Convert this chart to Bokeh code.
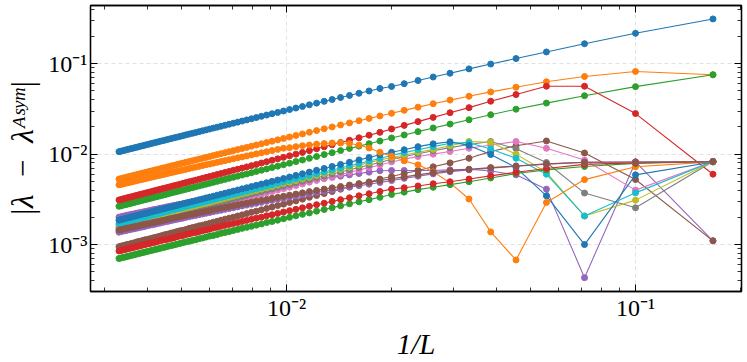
from bokeh.plotting import figure
from bokeh.models import Range1d, LogAxis, FixedTicker
from bokeh.embed import file_html
from bokeh.resources import INLINE

# ---------------- data ----------------
L_sizes = [6, 10, 14, 18, 22, 26, 30, 34, 38, 42, 46, 50, 54, 58, 62, 66, 70, 74, 78, 82,
           86, 90, 94, 98, 102, 106, 110, 114, 118, 122, 126, 130, 134, 138, 142, 146, 150,
           154, 158, 162, 166, 170, 174, 178, 182, 186, 190, 194, 198, 202, 206, 210, 214,
           218, 222, 226, 230, 234, 238, 242, 246, 250, 254, 258, 262, 266, 270, 274, 278,
           282, 286, 290, 294, 298, 302]

s00_blue = [0.313, 0.217, 0.1664, 0.135, 0.1141, 0.0992, 0.0877, 0.0785, 0.0713, 0.0652, 0.0602, 0.0560,
    0.05323, 0.05, 0.04714, 0.04459, 0.04231, 0.04024, 0.03837, 0.03667, 0.03511, 0.03367,
    0.03235, 0.03113, 0.03, 0.02895, 0.02797, 0.02705, 0.02619, 0.02538, 0.02463, 0.02391,
    0.02324, 0.0226, 0.022, 0.02143, 0.02089, 0.02037, 0.01988, 0.01941, 0.01897, 0.01854,
    0.01813, 0.01774, 0.01737, 0.01701, 0.01667, 0.01634, 0.01602, 0.01571, 0.01542, 0.01514,
    0.01486, 0.0146, 0.01435, 0.0141, 0.01387, 0.01364, 0.01341, 0.0132, 0.01299, 0.01279,
    0.0126, 0.01241, 0.01222, 0.01204, 0.01187, 0.0117, 0.01154, 0.01138, 0.01122, 0.01107,
    0.01093, 0.01078, 0.01065]
s01_orange = [0.0755, 0.0822, 0.0722, 0.0632, 0.0550, 0.0488, 0.0437, 0.0396, 0.0361, 0.0331, 0.0305, 0.0283,
    0.02645, 0.02485, 0.02343, 0.02216, 0.02103, 0.02, 0.01907, 0.01822, 0.01745, 0.01673,
    0.01608, 0.01547, 0.01491, 0.01439, 0.0139, 0.01344, 0.01302, 0.01262, 0.01224, 0.01188,
    0.01155, 0.01123, 0.01093, 0.01065, 0.01038, 0.01012, 0.00988, 0.00965, 0.00943, 0.00921,
    0.00901, 0.00882, 0.00863, 0.00845, 0.00828, 0.00812, 0.00796, 0.00781, 0.00766, 0.00752,
    0.00739, 0.00726, 0.00713, 0.00701, 0.00689, 0.00678, 0.00667, 0.00656, 0.00646, 0.00636,
    0.00626, 0.00617, 0.00607, 0.00599, 0.0059, 0.00582, 0.00573, 0.00566, 0.00558, 0.0055,
    0.00543, 0.00536, 0.00529]
s02_green = [0.0755, 0.0558, 0.0443, 0.0367, 0.0314, 0.0273, 0.0240, 0.0215, 0.01947, 0.01774, 0.0163, 0.0151,
    0.01397, 0.01306, 0.01227, 0.01157, 0.01095, 0.01038, 0.00988, 0.00942, 0.009, 0.00862,
    0.00827, 0.00794, 0.00764, 0.00736, 0.00711, 0.00686, 0.00664, 0.00643, 0.00623, 0.00604,
    0.00587, 0.0057, 0.00555, 0.0054, 0.00526, 0.00513, 0.005, 0.00488, 0.00476, 0.00466,
    0.00455, 0.00445, 0.00435, 0.00426, 0.00418, 0.00409, 0.00401, 0.00393, 0.00386, 0.00379,
    0.00372, 0.00365, 0.00358, 0.00352, 0.00346, 0.0034, 0.00335, 0.00329, 0.00324, 0.00319,
    0.00314, 0.00309, 0.00305, 0.003, 0.00296, 0.00291, 0.00287, 0.00283, 0.00279, 0.00276,
    0.00272, 0.00268, 0.00265]
s03_red = [0.0060, 0.0281, 0.0564, 0.0564, 0.0456, 0.0385, 0.0327, 0.0287, 0.0255, 0.0229, 0.0208, 0.0190,
    0.01741, 0.01621, 0.01516, 0.01424, 0.01343, 0.0127, 0.01205, 0.01146, 0.01093, 0.01044,
    0.01, 0.00959, 0.00922, 0.00887, 0.00855, 0.00825, 0.00797, 0.0077, 0.00746, 0.00723,
    0.00701, 0.00681, 0.00662, 0.00644, 0.00627, 0.0061, 0.00595, 0.0058, 0.00566, 0.00553,
    0.0054, 0.00528, 0.00516, 0.00505, 0.00495, 0.00485, 0.00475, 0.00465, 0.00456, 0.00448,
    0.00439, 0.00431, 0.00423, 0.00416, 0.00409, 0.00402, 0.00395, 0.00388, 0.00382, 0.00376,
    0.0037, 0.00364, 0.00359, 0.00353, 0.00348, 0.00343, 0.00338, 0.00333, 0.00329, 0.00324,
    0.0032, 0.00315, 0.00311]
s04_purple = [0.0011, 0.0082, 0.00043, 0.0041, 0.0059, 0.0065, 0.0068, 0.0067, 0.0066, 0.0066, 0.0066, 0.0066,
    0.00655, 0.00632, 0.0061, 0.0059, 0.00571, 0.00554, 0.00537, 0.00522, 0.00507, 0.00493,
    0.0048, 0.00468, 0.00456, 0.00444, 0.00434, 0.00424, 0.00414, 0.00404, 0.00396, 0.00387,
    0.00379, 0.00371, 0.00364, 0.00356, 0.0035, 0.00343, 0.00336, 0.0033, 0.00324, 0.00319,
    0.00313, 0.00308, 0.00303, 0.00298, 0.00293, 0.00288, 0.00283, 0.00279, 0.00275, 0.00271,
    0.00267, 0.00263, 0.00259, 0.00255, 0.00252, 0.00248, 0.00245, 0.00242, 0.00238, 0.00235,
    0.00232, 0.00229, 0.00226, 0.00224, 0.00221, 0.00218, 0.00216, 0.00213, 0.00211, 0.00208,
    0.00206, 0.00203, 0.00201]
s05_brown = [0.0011, 0.00524, 0.0103, 0.0140, 0.0124, 0.0107, 0.0090, 0.0080, 0.00724, 0.0066, 0.0061, 0.00565,
    0.0053, 0.00493, 0.00461, 0.00433, 0.00409, 0.00386, 0.00367, 0.00349, 0.00333, 0.00318,
    0.00304, 0.00292, 0.0028, 0.0027, 0.0026, 0.00251, 0.00242, 0.00234, 0.00227, 0.0022,
    0.00213, 0.00207, 0.00201, 0.00196, 0.00191, 0.00186, 0.00181, 0.00177, 0.00172, 0.00168,
    0.00164, 0.00161, 0.00157, 0.00154, 0.00151, 0.00147, 0.00144, 0.00142, 0.00139, 0.00136,
    0.00134, 0.00131, 0.00129, 0.00127, 0.00124, 0.00122, 0.0012, 0.00118, 0.00116, 0.00114,
    0.00113, 0.00111, 0.00109, 0.00108, 0.00106, 0.00104, 0.00103, 0.00101, 0.001, 0.000986,
    0.000973, 0.00096, 0.000947]
s06_pink = [0.0083, 0.0040, 0.0086, 0.0116, 0.0138, 0.0126, 0.0116, 0.0107, 0.0100, 0.0094, 0.0088, 0.0082,
    0.00759, 0.0071, 0.00667, 0.00629, 0.00595, 0.00564, 0.00537, 0.00512, 0.00489, 0.00468,
    0.00449, 0.00431, 0.00415, 0.004, 0.00386, 0.00373, 0.00361, 0.00349, 0.00338, 0.00328,
    0.00319, 0.0031, 0.00301, 0.00293, 0.00286, 0.00278, 0.00272, 0.00265, 0.00259, 0.00253,
    0.00247, 0.00242, 0.00237, 0.00232, 0.00227, 0.00222, 0.00218, 0.00214, 0.0021, 0.00206,
    0.00202, 0.00198, 0.00195, 0.00191, 0.00188, 0.00185, 0.00182, 0.00179, 0.00176, 0.00173,
    0.00171, 0.00168, 0.00165, 0.00163, 0.00161, 0.00158, 0.00156, 0.00154, 0.00152, 0.0015,
    0.00148, 0.00146, 0.00144]
s07_gray = [0.0083, 0.00255, 0.00371, 0.00808, 0.0115, 0.0138, 0.0128, 0.0118, 0.0109, 0.0101, 0.0094, 0.0088,
    0.0081, 0.00758, 0.00712, 0.00671, 0.00635, 0.00603, 0.00573, 0.00547, 0.00522, 0.005,
    0.0048, 0.00461, 0.00443, 0.00427, 0.00412, 0.00398, 0.00385, 0.00373, 0.00362, 0.00351,
    0.00341, 0.00331, 0.00322, 0.00313, 0.00305, 0.00297, 0.0029, 0.00283, 0.00276, 0.0027,
    0.00264, 0.00258, 0.00253, 0.00247, 0.00242, 0.00237, 0.00233, 0.00228, 0.00224, 0.0022,
    0.00216, 0.00212, 0.00208, 0.00204, 0.00201, 0.00197, 0.00194, 0.00191, 0.00188, 0.00185,
    0.00182, 0.00179, 0.00177, 0.00174, 0.00172, 0.00169, 0.00167, 0.00164, 0.00162, 0.0016,
    0.00158, 0.00156, 0.00154]
s08_olive = [0.0083, 0.0031, 0.00207, 0.0063, 0.0100, 0.0135, 0.0138, 0.0124, 0.0113, 0.0105, 0.0098, 0.0092,
    0.00862, 0.00806, 0.00758, 0.00714, 0.00676, 0.00641, 0.0061, 0.00581, 0.00556, 0.00532,
    0.0051, 0.0049, 0.00472, 0.00455, 0.00439, 0.00424, 0.0041, 0.00397, 0.00385, 0.00373,
    0.00362, 0.00352, 0.00342, 0.00333, 0.00325, 0.00316, 0.00309, 0.00301, 0.00294, 0.00287,
    0.00281, 0.00275, 0.00269, 0.00263, 0.00258, 0.00253, 0.00248, 0.00243, 0.00238, 0.00234,
    0.00229, 0.00225, 0.00221, 0.00217, 0.00214, 0.0021, 0.00207, 0.00203, 0.002, 0.00197,
    0.00194, 0.00191, 0.00188, 0.00185, 0.00182, 0.0018, 0.00177, 0.00175, 0.00172, 0.0017,
    0.00168, 0.00166, 0.00163]
s09_cyan = [0.0083, 0.00373, 0.00207, 0.0060, 0.0090, 0.0114, 0.0134, 0.0132, 0.0121, 0.0112, 0.0104, 0.0097,
    0.00897, 0.00839, 0.00788, 0.00743, 0.00703, 0.00667, 0.00634, 0.00605, 0.00578, 0.00553,
    0.00531, 0.0051, 0.00491, 0.00473, 0.00456, 0.00441, 0.00426, 0.00413, 0.004, 0.00388,
    0.00377, 0.00366, 0.00356, 0.00347, 0.00338, 0.00329, 0.00321, 0.00313, 0.00306, 0.00299,
    0.00292, 0.00286, 0.0028, 0.00274, 0.00268, 0.00263, 0.00257, 0.00252, 0.00248, 0.00243,
    0.00239, 0.00234, 0.0023, 0.00226, 0.00222, 0.00218, 0.00215, 0.00211, 0.00208, 0.00205,
    0.00202, 0.00198, 0.00195, 0.00193, 0.0019, 0.00187, 0.00184, 0.00182, 0.00179, 0.00177,
    0.00174, 0.00172, 0.0017]
s10_blue = [0.0082, 0.0059, 0.00100, 0.00346, 0.0071, 0.0099, 0.0125, 0.0137, 0.0130, 0.0121, 0.0112, 0.0105,
    0.00983, 0.00919, 0.00864, 0.00814, 0.0077, 0.00731, 0.00695, 0.00663, 0.00633, 0.00606,
    0.00582, 0.00559, 0.00538, 0.00518, 0.005, 0.00483, 0.00467, 0.00452, 0.00438, 0.00425,
    0.00413, 0.00401, 0.0039, 0.0038, 0.0037, 0.00361, 0.00352, 0.00343, 0.00335, 0.00328,
    0.0032, 0.00313, 0.00306, 0.003, 0.00294, 0.00288, 0.00282, 0.00277, 0.00271, 0.00266,
    0.00261, 0.00257, 0.00252, 0.00248, 0.00244, 0.00239, 0.00236, 0.00232, 0.00228, 0.00224,
    0.00221, 0.00218, 0.00214, 0.00211, 0.00208, 0.00205, 0.00202, 0.00199, 0.00197, 0.00194,
    0.00191, 0.00189, 0.00186]
s11_orange = [0.00822, 0.00724, 0.00523, 0.00292, 0.000675, 0.00138, 0.00319, 0.00482, 0.00637, 0.00762,
    0.00843, 0.0095, 0.0105, 0.0117, 0.0126, 0.0131, 0.0133, 0.0133, 0.0131, 0.0129, 0.0126, 0.0124,
    0.0121, 0.0118,
    0.01162, 0.01127, 0.01094, 0.01063, 0.01034, 0.01007, 0.00981, 0.00956, 0.00932, 0.0091,
    0.00888, 0.00868, 0.00848, 0.0083, 0.00812, 0.00795, 0.00778, 0.00763, 0.00748, 0.00733,
    0.00719, 0.00706, 0.00693, 0.0068, 0.00668, 0.00657, 0.00645, 0.00635, 0.00624, 0.00614,
    0.00604, 0.00594, 0.00585, 0.00576, 0.00568, 0.00559, 0.00551, 0.00543, 0.00535, 0.00528,
    0.00521, 0.00514, 0.00507, 0.005, 0.00493, 0.00487, 0.00481, 0.00475, 0.00469, 0.00463,
    0.00458]
s12_green = [0.0083, 0.0079, 0.0073, 0.0067, 0.0061, 0.00545, 0.00495, 0.0046, 0.0043, 0.00405, 0.0038, 0.00358,
    0.00333, 0.00314, 0.00297, 0.00282, 0.00268, 0.00256, 0.00244, 0.00234, 0.00224, 0.00216,
    0.00208, 0.002, 0.00193, 0.00186, 0.0018, 0.00175, 0.00169, 0.00164, 0.00159, 0.00155,
    0.00151, 0.00147, 0.00143, 0.00139, 0.00136, 0.00133, 0.00129, 0.00126, 0.00124, 0.00121,
    0.00118, 0.00116, 0.00113, 0.00111, 0.00109, 0.00107, 0.00105, 0.00103, 0.00101, 0.000991,
    0.000973, 0.000957, 0.00094, 0.000924, 0.000909, 0.000894, 0.00088, 0.000866, 0.000853, 0.00084,
    0.000827, 0.000815, 0.000803, 0.000791, 0.00078, 0.000769, 0.000759, 0.000748, 0.000738, 0.000728,
    0.000719, 0.00071, 0.000701]
s13_red = [0.0083, 0.0080, 0.0077, 0.00695, 0.0063, 0.00575, 0.0053, 0.00495, 0.0047, 0.00445, 0.00425, 0.0041,
    0.00386, 0.00365, 0.00346, 0.00329, 0.00314, 0.003, 0.00287, 0.00276, 0.00265, 0.00255,
    0.00245, 0.00237, 0.00229, 0.00221, 0.00214, 0.00208, 0.00201, 0.00196, 0.0019, 0.00185,
    0.0018, 0.00175, 0.00171, 0.00167, 0.00163, 0.00159, 0.00155, 0.00152, 0.00148, 0.00145,
    0.00142, 0.00139, 0.00136, 0.00134, 0.00131, 0.00129, 0.00126, 0.00124, 0.00122, 0.00119,
    0.00117, 0.00115, 0.00113, 0.00112, 0.0011, 0.00108, 0.00106, 0.00105, 0.00103, 0.00102,
    0.001, 0.000986, 0.000971, 0.000957, 0.000944, 0.000931, 0.000918, 0.000906, 0.000894, 0.000882,
    0.000871, 0.00086, 0.000849]
s14_purple = [0.00825, 0.0082, 0.0081, 0.00775, 0.00735, 0.0070, 0.0067, 0.0064, 0.00605, 0.0057, 0.0054, 0.0051,
    0.00485, 0.00466, 0.00448, 0.00432, 0.00417, 0.00403, 0.00389, 0.00377, 0.00365, 0.00354,
    0.00344, 0.00335, 0.00325, 0.00317, 0.00308, 0.00301, 0.00293, 0.00286, 0.00279, 0.00273,
    0.00267, 0.00261, 0.00255, 0.0025, 0.00245, 0.0024, 0.00235, 0.00231, 0.00226, 0.00222,
    0.00218, 0.00214, 0.0021, 0.00207, 0.00203, 0.002, 0.00196, 0.00193, 0.0019, 0.00187,
    0.00184, 0.00181, 0.00179, 0.00176, 0.00173, 0.00171, 0.00168, 0.00166, 0.00164, 0.00162,
    0.00159, 0.00157, 0.00155, 0.00153, 0.00151, 0.00149, 0.00148, 0.00146, 0.00144, 0.00142,
    0.00141, 0.00139, 0.00137]
s15_brown = [0.00825, 0.0082, 0.00815, 0.0078, 0.0074, 0.0071, 0.0068, 0.00655, 0.00625, 0.0059, 0.0056, 0.00535,
    0.0051, 0.0049, 0.00472, 0.00455, 0.00439, 0.00424, 0.0041, 0.00397, 0.00385, 0.00373,
    0.00362, 0.00352, 0.00342, 0.00333, 0.00325, 0.00316, 0.00309, 0.00301, 0.00294, 0.00287,
    0.00281, 0.00275, 0.00269, 0.00263, 0.00258, 0.00253, 0.00248, 0.00243, 0.00238, 0.00234,
    0.00229, 0.00225, 0.00221, 0.00217, 0.00214, 0.0021, 0.00207, 0.00203, 0.002, 0.00197,
    0.00194, 0.00191, 0.00188, 0.00185, 0.00182, 0.0018, 0.00177, 0.00175, 0.00172, 0.0017,
    0.00168, 0.00166, 0.00163, 0.00161, 0.00159, 0.00157, 0.00155, 0.00153, 0.00152, 0.0015,
    0.00148, 0.00146, 0.00145]

series = [s00_blue, s01_orange, s02_green, s03_red, s04_purple, s05_brown, s06_pink, s07_gray,
          s08_olive, s09_cyan, s10_blue, s11_orange, s12_green, s13_red, s14_purple, s15_brown]
colors = ["#1f77b4", "#ff7f0e", "#2ca02c", "#d62728", "#9467bd", "#8c564b", "#e377c2", "#7f7f7f",
          "#bcbd22", "#17becf", "#1f77b4", "#ff7f0e", "#2ca02c", "#d62728", "#9467bd", "#8c564b"]

x_major = [0.01, 0.1]
x_minor = [0.003, 0.004, 0.005, 0.006, 0.007, 0.008, 0.009,
           0.02, 0.03, 0.04, 0.05, 0.06, 0.07, 0.08, 0.09, 0.2]
y_major = [0.001, 0.01, 0.1]
y_minor = [0.0004, 0.0005, 0.0006, 0.0007, 0.0008, 0.0009,
           0.002, 0.003, 0.004, 0.005, 0.006, 0.007, 0.008, 0.009,
           0.02, 0.03, 0.04, 0.05, 0.06, 0.07, 0.08, 0.09, 0.2, 0.3, 0.4]
x_tick_text = {0.01: "10⁻²", 0.1: "10⁻¹"}
y_tick_text = {0.001: "10⁻³", 0.01: "10⁻²", 0.1: "10⁻¹"}
x_title = "1/L"
y_title = "|λ\u2002−\u2002λᴬˢʸᵐ|"

# ---------------- figure ----------------
p = figure(width=747, height=362, x_axis_type="log", y_axis_type="log",
           x_range=Range1d(0.002744, 0.2012), y_range=Range1d(3.025e-4, 0.4407),
           output_backend="svg", toolbar_location=None,
           min_border_left=90, min_border_right=6, min_border_top=5, min_border_bottom=71)
p.background_fill_color = "white"
p.border_fill_color = "white"
p.outline_line_color = "black"
p.outline_line_width = 1.3

FONT = "Liberation Serif"


def style_axis(ax, ticks, minor, texts, show):
    ax.ticker = FixedTicker(ticks=ticks, minor_ticks=minor)
    ax.major_tick_in = 7
    ax.major_tick_out = 0
    ax.minor_tick_in = 4
    ax.minor_tick_out = 0
    ax.major_tick_line_color = "black"
    ax.minor_tick_line_color = "black"
    ax.major_tick_line_width = 1
    ax.minor_tick_line_width = 0.8
    ax.axis_line_color = "black"
    ax.axis_line_width = 1.3
    if show:
        ax.major_label_overrides = texts
        ax.major_label_text_font = FONT
        ax.major_label_text_font_size = "24px"
        ax.major_label_text_color = "black"
    else:
        ax.major_label_overrides = {t: "" for t in ticks}
        ax.major_label_text_font_size = "0px"
        ax.major_label_standoff = 0


style_axis(p.xaxis[0], x_major, x_minor, x_tick_text, True)
style_axis(p.yaxis[0], y_major, y_minor, y_tick_text, True)
p.xaxis[0].major_label_standoff = 3
p.yaxis[0].major_label_standoff = 3

p.xaxis[0].axis_label = x_title
p.xaxis[0].axis_label_text_font = FONT
p.xaxis[0].axis_label_text_font_size = "29px"
p.xaxis[0].axis_label_text_font_style = "italic"
p.xaxis[0].axis_label_text_color = "black"
p.xaxis[0].axis_label_standoff = 4

p.yaxis[0].axis_label = y_title
p.yaxis[0].axis_label_text_font = FONT
p.yaxis[0].axis_label_text_font_size = "31px"
p.yaxis[0].axis_label_text_font_style = "italic"
p.yaxis[0].axis_label_text_color = "black"
p.yaxis[0].axis_label_standoff = 5

top_ax = LogAxis()
right_ax = LogAxis()
style_axis(top_ax, x_major, x_minor, None, False)
style_axis(right_ax, y_major, y_minor, None, False)
p.add_layout(top_ax, "above")
p.add_layout(right_ax, "right")

p.xgrid.ticker = FixedTicker(ticks=x_major)
p.ygrid.ticker = FixedTicker(ticks=y_major)
for g in (p.xgrid[0], p.ygrid[0]):
    g.grid_line_color = "#d0d0d0"
    g.grid_line_dash = "4 3"
    g.grid_line_width = 0.8
    g.grid_line_alpha = 0.8

x_vals = [1.0 / n for n in L_sizes]
for ys, col in zip(series, colors):
    n = min(len(x_vals), len(ys))
    p.line(x_vals[:n], ys[:n], line_color=col, line_width=1.1)
    p.scatter(x_vals[:n], ys[:n], size=6, fill_color=col, line_color=col)

open("out.html", "w").write(file_html(p, INLINE))
